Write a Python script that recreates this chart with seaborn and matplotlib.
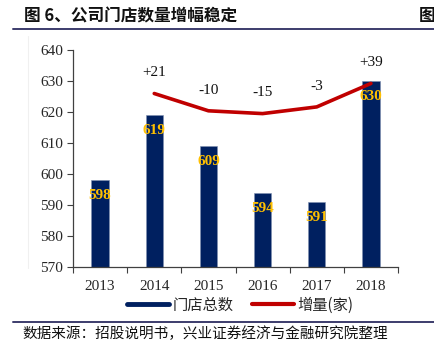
import matplotlib
matplotlib.use("Agg")
import matplotlib.pyplot as plt
import seaborn as sns
import pandas as pd
from matplotlib.lines import Line2D

years = ["2013", "2014", "2015", "2016", "2017", "2018"]
stores = [598, 619, 609, 594, 591, 630]
inc_years = ["2014", "2015", "2016", "2017", "2018"]
increments = [21, -10, -15, -3, 39]
inc_labels = ["+21", "-10", "-15", "-3", "+39"]
yticks = [570, 580, 590, 600, 610, 620, 630, 640]

title = "图 6、公司门店数量增幅稳定"
source = "数据来源：招股说明书，兴业证券经济与金融研究院整理"
legend_labels = ["门店总数", "增量(家)"]

sns.set_theme(style="white")
plt.rcParams["font.family"] = ["Liberation Serif", "Noto Sans CJK SC", "DejaVu Sans"]

BAR = "#002060"
RED = "#C00000"
GOLD = "#FFC000"

fig = plt.figure(figsize=(4.34, 3.52), dpi=100)
ax = fig.add_axes([73/434, 1 - 267/352, (398 - 73)/434, (267 - 50)/352])

df = pd.DataFrame({"year": years, "stores": stores})
sns.barplot(data=df, x="year", y="stores", color=BAR, width=0.32,
            saturation=1, ax=ax, edgecolor="#7f8fb0", linewidth=0.4)
ax.set_ylim(570, 640)
ax.set_yticks(yticks)
ax.set_xlim(-0.5, 5.5)
ax.set_xlabel("")
ax.set_ylabel("")
for s in ["top", "right"]:
    ax.spines[s].set_visible(False)
for s in ["left", "bottom"]:
    ax.spines[s].set_color("#404040")
    ax.spines[s].set_linewidth(0.9)
ax.tick_params(axis="y", which="major", left=True, length=4, width=0.8,
               color="#404040", labelsize=11, pad=3)
ax.tick_params(axis="x", which="major", bottom=False, labelsize=11, pad=3)
ax.set_xticks([i - 0.5 for i in range(7)], minor=True)
ax.tick_params(axis="x", which="minor", bottom=True, length=4, width=0.8,
               color="#404040")
for lab in ax.get_xticklabels() + ax.get_yticklabels():
    lab.set_fontfamily("Liberation Serif")

for i, v in enumerate(stores):
    ax.text(i, v - 5, str(v), ha="center", va="center", color=GOLD,
            fontsize=11, fontweight="bold", family="Liberation Serif")

ax2 = ax.twinx()
ax2.set_ylim(-290, 99)
ax2.set_yticks([])
for s in ax2.spines.values():
    s.set_visible(False)
dfl = pd.DataFrame({"year": [years.index(y) for y in inc_years], "inc": increments})
sns.lineplot(data=dfl, x="year", y="inc", color=RED, linewidth=2.6, ax=ax2)
ax2.set_xlim(-0.5, 5.5)
ax2.set_xlabel("")
ax2.set_ylabel("")
for xi, v, lab in zip(dfl["year"], increments, inc_labels):
    ax2.text(xi, v + 37, lab, ha="center", va="center", color="#111111",
             fontsize=11, family="Liberation Serif")

handles = [Line2D([0], [0], color=BAR, linewidth=3.5),
           Line2D([0], [0], color=RED, linewidth=3)]
leg = fig.legend(handles, legend_labels, loc="center", bbox_to_anchor=(240/434, 1 - 305/352),
                 ncol=2, frameon=False, handlelength=2.8, handletextpad=0.2,
                 columnspacing=1.2, borderpad=0.1,
                 prop={"family": ["Noto Sans CJK SC"], "size": 11})

fig.text(24/434, 1 - 16/352, title, ha="left", va="center", fontsize=12,
         fontweight="bold", family=["Noto Sans CJK SC"], color="#111111")
fig.text(419/434, 1 - 16/352, "图", ha="left", va="center", fontsize=12,
         fontweight="bold", family=["Noto Sans CJK SC"], color="#111111")
fig.add_artist(Line2D([13/434, 1.0], [1 - 29/352, 1 - 29/352], color="#3c3c6c",
                      linewidth=1.4, transform=fig.transFigure))
fig.add_artist(Line2D([13/434, 1.0], [1 - 322/352, 1 - 322/352], color="#3c3c6c",
                      linewidth=1.4, transform=fig.transFigure))
fig.add_artist(Line2D([28/434, 28/434], [1 - 268/352, 1 - 36/352], color="#f0f0f0",
                      linewidth=0.8, transform=fig.transFigure))
fig.text(22/434, 1 - 334/352, source, ha="left", va="center", fontsize=10.5,
         family=["Noto Sans CJK SC"], color="#111111")

fig.savefig("out.png", dpi=100)
